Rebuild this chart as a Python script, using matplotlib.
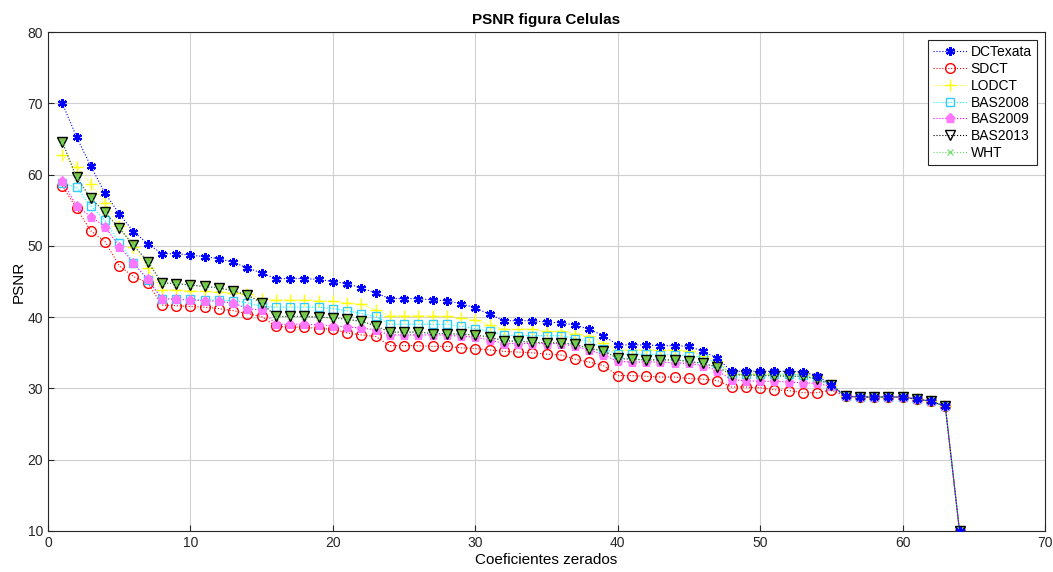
import matplotlib.pyplot as plt
from matplotlib.lines import Line2D

plt.rcParams['font.family'] = ['Liberation Sans', 'DejaVu Sans']

# Coefficients zeroed (1..64)
coef = list(range(1, 65))

dct_exata = [70.0, 65.3, 61.2, 57.4, 54.5, 52.0, 50.3, 48.9, 48.9, 48.7,
             48.5, 48.2, 47.7, 46.9, 46.2, 45.4, 45.4, 45.4, 45.3, 45.0,
             44.7, 44.1, 43.4, 42.6, 42.6, 42.6, 42.4, 42.3, 41.9, 41.3,
             40.4, 39.5, 39.5, 39.5, 39.3, 39.2, 38.9, 38.3, 37.4, 36.1,
             36.1, 36.1, 36.0, 36.0, 35.9, 35.2, 34.2, 32.4, 32.4, 32.4,
             32.4, 32.4, 32.3, 31.8, 30.5,
             28.9, 28.8, 28.8, 28.8, 28.8, 28.5, 28.2, 27.5, 10.0]

sdct = [58.4, 55.3, 52.1, 50.6, 47.2, 45.7, 44.8, 41.7, 41.6, 41.5,
        41.4, 41.2, 40.9, 40.5, 40.1, 38.7, 38.6, 38.6, 38.4, 38.3,
        37.8, 37.5, 37.3, 36.0, 36.0, 36.0, 35.9, 35.9, 35.7, 35.6,
        35.4, 35.2, 35.1, 35.0, 34.8, 34.7, 34.1, 33.7, 33.2, 31.8,
        31.8, 31.7, 31.6, 31.6, 31.4, 31.3, 31.1, 30.2, 30.2, 30.1,
        29.8, 29.7, 29.4, 29.4, 29.8,
        28.9, 28.8, 28.8, 28.8, 28.8, 28.5, 28.2, 27.5, 10.0]

lodct = [62.7, 61.1, 58.7, 56.0, 52.8, 49.9, 46.9, 43.8, 43.8, 43.7,
         43.6, 43.5, 43.4, 43.2, 42.6, 42.4, 42.4, 42.4, 42.3, 42.2,
         42.0, 41.8, 41.0, 40.2, 40.2, 40.2, 40.2, 40.1, 39.9, 39.6,
         38.9, 38.3, 38.3, 38.3, 38.0, 38.0, 37.7, 37.3, 36.4, 35.4,
         35.4, 35.4, 35.4, 35.4, 35.3, 34.6, 33.9, 32.0, 32.0, 32.0,
         32.0, 32.0, 32.0, 31.6, 30.5,
         28.9, 28.8, 28.8, 28.8, 28.8, 28.5, 28.2, 27.5, 10.0]

bas2008 = [58.8, 58.2, 55.6, 53.6, 50.4, 47.6, 45.2, 42.6, 42.5, 42.5,
           42.4, 42.4, 42.3, 42.0, 41.5, 41.4, 41.4, 41.4, 41.4, 41.2,
           40.9, 40.5, 40.1, 39.0, 39.0, 39.0, 39.0, 39.0, 38.7, 38.4,
           38.0, 37.5, 37.4, 37.4, 37.4, 37.4, 37.0, 36.6, 35.6, 34.8,
           34.8, 34.8, 34.7, 34.7, 34.6, 34.3, 33.6, 32.0, 32.0, 32.0,
           32.0, 32.0, 31.9, 31.4, 30.4,
           28.9, 28.8, 28.8, 28.8, 28.8, 28.5, 28.2, 27.5, 10.0]

bas2009 = [59.1, 55.6, 54.1, 52.7, 49.9, 47.6, 45.3, 42.6, 42.5, 42.4,
           42.3, 42.2, 42.0, 41.2, 41.0, 39.0, 39.0, 39.0, 38.9, 38.8,
           38.6, 38.5, 38.2, 37.5, 37.5, 37.5, 37.5, 37.5, 37.3, 37.2,
           36.8, 36.3, 36.3, 36.3, 36.3, 36.3, 35.9, 35.4, 34.7, 33.8,
           33.7, 33.7, 33.7, 33.6, 33.5, 33.2, 32.5, 31.2, 31.1, 31.0,
           31.0, 30.9, 30.8, 30.7, 30.3,
           28.9, 28.8, 28.8, 28.8, 28.8, 28.5, 28.2, 27.5, 10.0]

bas2013 = [64.6, 59.6, 56.7, 54.7, 52.5, 50.1, 47.8, 44.8, 44.7, 44.5,
           44.3, 44.1, 43.7, 43.1, 42.0, 40.1, 40.1, 40.1, 40.0, 39.9,
           39.7, 39.4, 38.8, 37.9, 37.9, 37.9, 37.7, 37.7, 37.6, 37.5,
           37.2, 36.7, 36.6, 36.5, 36.4, 36.4, 36.2, 35.6, 35.3, 34.2,
           34.1, 34.0, 34.0, 34.0, 33.8, 33.5, 33.0, 31.9, 31.9, 31.8,
           31.8, 31.7, 31.7, 31.3, 30.5,
           28.9, 28.8, 28.8, 28.8, 28.8, 28.5, 28.2, 27.5, 10.0]

wht = [64.6, 59.6, 56.7, 54.7, 52.5, 50.1, 47.8, 44.8, 44.7, 44.5,
       44.3, 44.1, 43.7, 43.1, 42.0, 40.1, 40.1, 40.1, 40.0, 39.9,
       39.7, 39.4, 38.8, 37.9, 37.9, 37.9, 37.7, 37.7, 37.6, 37.5,
       37.2, 36.7, 36.6, 36.5, 36.4, 36.4, 36.2, 35.6, 35.3, 34.2,
       34.1, 34.0, 34.0, 34.0, 33.8, 33.5, 33.0, 31.9, 31.9, 31.8,
       31.8, 31.7, 31.7, 31.3, 30.5,
       28.9, 28.8, 28.8, 28.8, 28.8, 28.5, 28.2, 27.5, 10.0]

fig = plt.figure(figsize=(10.53, 5.72), dpi=100)
ax = fig.add_axes([0.0456, 0.0717, 0.9468, 0.8723])

lw = 0.8
ax.plot(coef, dct_exata, ':', color='blue', lw=lw, marker=(6, 2, 0), ms=6.5, mew=1.6, mec='blue', zorder=9)
ax.plot(coef, sdct, ':', color='red', lw=lw, marker='o', ms=7, mfc='none', mec='red', mew=1.0)
ax.plot(coef, lodct, ':', color='yellow', lw=lw, marker='+', ms=8, mec='yellow', mew=1.0)
ax.plot(coef, bas2008, ':', color='cyan', lw=lw, marker='s', ms=6, mfc='none', mec='#33ccff', mew=1.0)
ax.plot(coef, bas2009, ':', color='magenta', lw=lw, marker='p', ms=6.5, mfc='#ff77ff', mec='#ff77ff', mew=0.8)
ax.plot(coef, bas2013, ':', color='black', lw=lw, marker='v', ms=7.5, mfc='#7dc242', mec='black', mew=1.0)
ax.plot(coef, wht, ':', color='#66dd66', lw=lw, marker='x', ms=4, mec='#66dd66', mew=0.8, alpha=0.6)

ax.set_xlim(0, 70)
ax.set_ylim(10, 80)
ax.set_xticks(range(0, 71, 10))
ax.set_yticks(range(10, 81, 10))
ax.grid(True, color='#d0d0d0', lw=0.8)
ax.set_axisbelow(True)
ax.tick_params(direction='in', labelsize=10, colors='#262626', length=4)
for s in ax.spines.values():
    s.set_color('#262626')

ax.set_title('PSNR figura Celulas', fontsize=11, fontweight='bold', pad=6)
ax.set_xlabel('Coeficientes zerados', fontsize=11, labelpad=2)
ax.set_ylabel('PSNR', fontsize=11, labelpad=1)

handles = [
    Line2D([], [], ls=':', lw=0.8, color='blue', marker=(6, 2, 0), ms=6.5, mew=1.6),
    Line2D([], [], ls=':', lw=0.8, color='red', marker='o', ms=7, mfc='none', mew=1.0),
    Line2D([], [], ls=':', lw=0.8, color='yellow', marker='+', ms=8, mew=1.0),
    Line2D([], [], ls=':', lw=0.8, color='cyan', marker='s', ms=5.5, mfc='none', mec='#33ccff', mew=1.0),
    Line2D([], [], ls=':', lw=0.8, color='magenta', marker='p', ms=6.5, mfc='#ff77ff', mec='#ff77ff'),
    Line2D([], [], ls=':', lw=0.8, color='black', marker='v', ms=7, mfc='none', mew=1.0),
    Line2D([], [], ls=':', lw=0.8, color='#66dd66', marker='x', ms=4, mew=0.8),
]
labels = ['DCTexata', 'SDCT', 'LODCT', 'BAS2008', 'BAS2009', 'BAS2013', 'WHT']
leg = ax.legend(handles, labels, loc='upper right', fontsize=10, fancybox=False,
                edgecolor='#262626', framealpha=1, handlelength=2.4,
                borderaxespad=0.6, labelspacing=0.2, handletextpad=0.3,
                borderpad=0.35)
leg.get_frame().set_linewidth(0.8)

fig.savefig('out.png', dpi=100)
